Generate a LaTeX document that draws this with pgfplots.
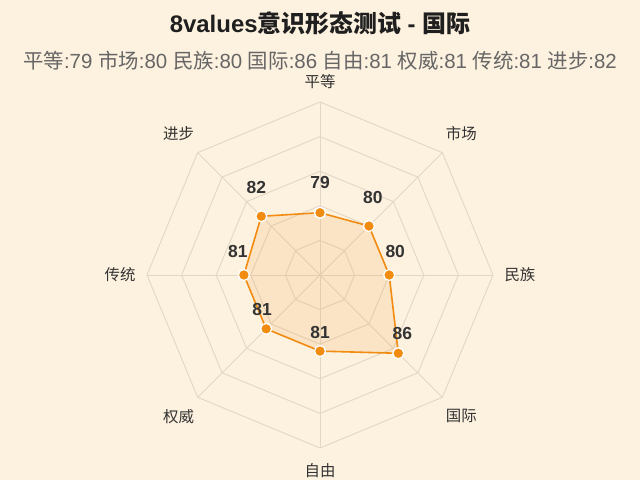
\documentclass[border=0pt]{standalone}
\usepackage{fontspec}
\setmainfont{Liberation Sans}
\newfontfamily\cjk{Noto Sans CJK SC}
\usepackage{pgfplots}
\pgfplotsset{compat=1.18}
\usepgfplotslibrary{polar}
\definecolor{bg}{HTML}{FDF1DF}
\definecolor{ora}{HTML}{F28C10}
\definecolor{gridc}{HTML}{E2D6C5}
\definecolor{tdark}{HTML}{333333}
\definecolor{tgray}{HTML}{666666}
\begin{document}
\begin{tikzpicture}[x=1bp,y=1bp]
\fill[bg] (0,0) rectangle (640,480);
\useasboundingbox (0,0) rectangle (640,480);
\node[anchor=base, text=black!88, font=\bfseries\fontsize{24}{28}\selectfont] at (320,447) {8values{\cjk 意识形态测试} - {\cjk 国际}};
\node[anchor=base, text=tgray, font=\fontsize{20.5}{24}\selectfont] at (320,411.7) {{\cjk 平等}:79 {\cjk 市场}:80 {\cjk 民族}:80 {\cjk 国际}:86 {\cjk 自由}:81 {\cjk 权威}:81 {\cjk 传统}:81 {\cjk 进步}:82};
\begin{polaraxis}[
  at={(320bp,205bp)}, anchor=center,
  scale only axis, width=346bp, height=346bp,
  xmin=0, xmax=360, ymin=0, ymax=25,
  axis line style={draw=none},
  xtick=\empty, ytick=\empty,
  clip=false,
]
% octagonal rings
\foreach \r in {5,10,15,20,25} {
  \edef\tmp{\noexpand\addplot[gridc, line width=0.9pt, no marks] coordinates {(90,\r)(45,\r)(0,\r)(315,\r)(270,\r)(225,\r)(180,\r)(135,\r)(90,\r)};}
  \tmp
}
% spokes
\foreach \a in {0,45,90,135,180,225,270,315} {
  \edef\tmp{\noexpand\addplot[gridc, line width=0.9pt, no marks] coordinates {(\a,0)(\a,25)};}
  \tmp
}
% data
\addplot[ora, line width=1.6pt, fill=ora, fill opacity=0.12, draw opacity=1,
  y filter/.expression={y-70},
  mark=*, mark size=5.5bp,
  mark options={fill=ora, draw=white, line width=1.3pt, fill opacity=1}]
  coordinates {(90,79)(45,80)(0,80)(315,86)(270,81)(225,81)(180,81)(135,82)(90,79)};
% category labels
\begin{scope}[font=\cjk\fontsize{15.5}{18}\selectfont, text=tdark]
\node at (axis cs:90,27.9) {平等};
\node at (axis cs:45,28.9) {市场};
\node at (axis cs:0,28.9) {民族};
\node at (axis cs:315,28.9) {国际};
\node at (axis cs:270,28.2) {自由};
\node at (axis cs:225,28.9) {权威};
\node at (axis cs:180,28.9) {传统};
\node at (axis cs:135,28.9) {进步};
\end{scope}
% value labels
\begin{scope}[font=\bfseries\fontsize{17.5}{20}\selectfont, text=tdark]
\node[yshift=30bp] at (axis cs:90,9) {79};
\node[xshift=4bp, yshift=29bp] at (axis cs:45,10) {80};
\node[xshift=6bp, yshift=23bp] at (axis cs:0,10) {80};
\node[xshift=4bp, yshift=20bp] at (axis cs:315,16) {86};
\node[yshift=19bp] at (axis cs:270,11) {81};
\node[xshift=-4bp, yshift=19bp] at (axis cs:225,11) {81};
\node[xshift=-6bp, yshift=23bp] at (axis cs:180,11) {81};
\node[xshift=-5bp, yshift=29bp] at (axis cs:135,12) {82};
\end{scope}
\end{polaraxis}
\end{tikzpicture}
\end{document}
